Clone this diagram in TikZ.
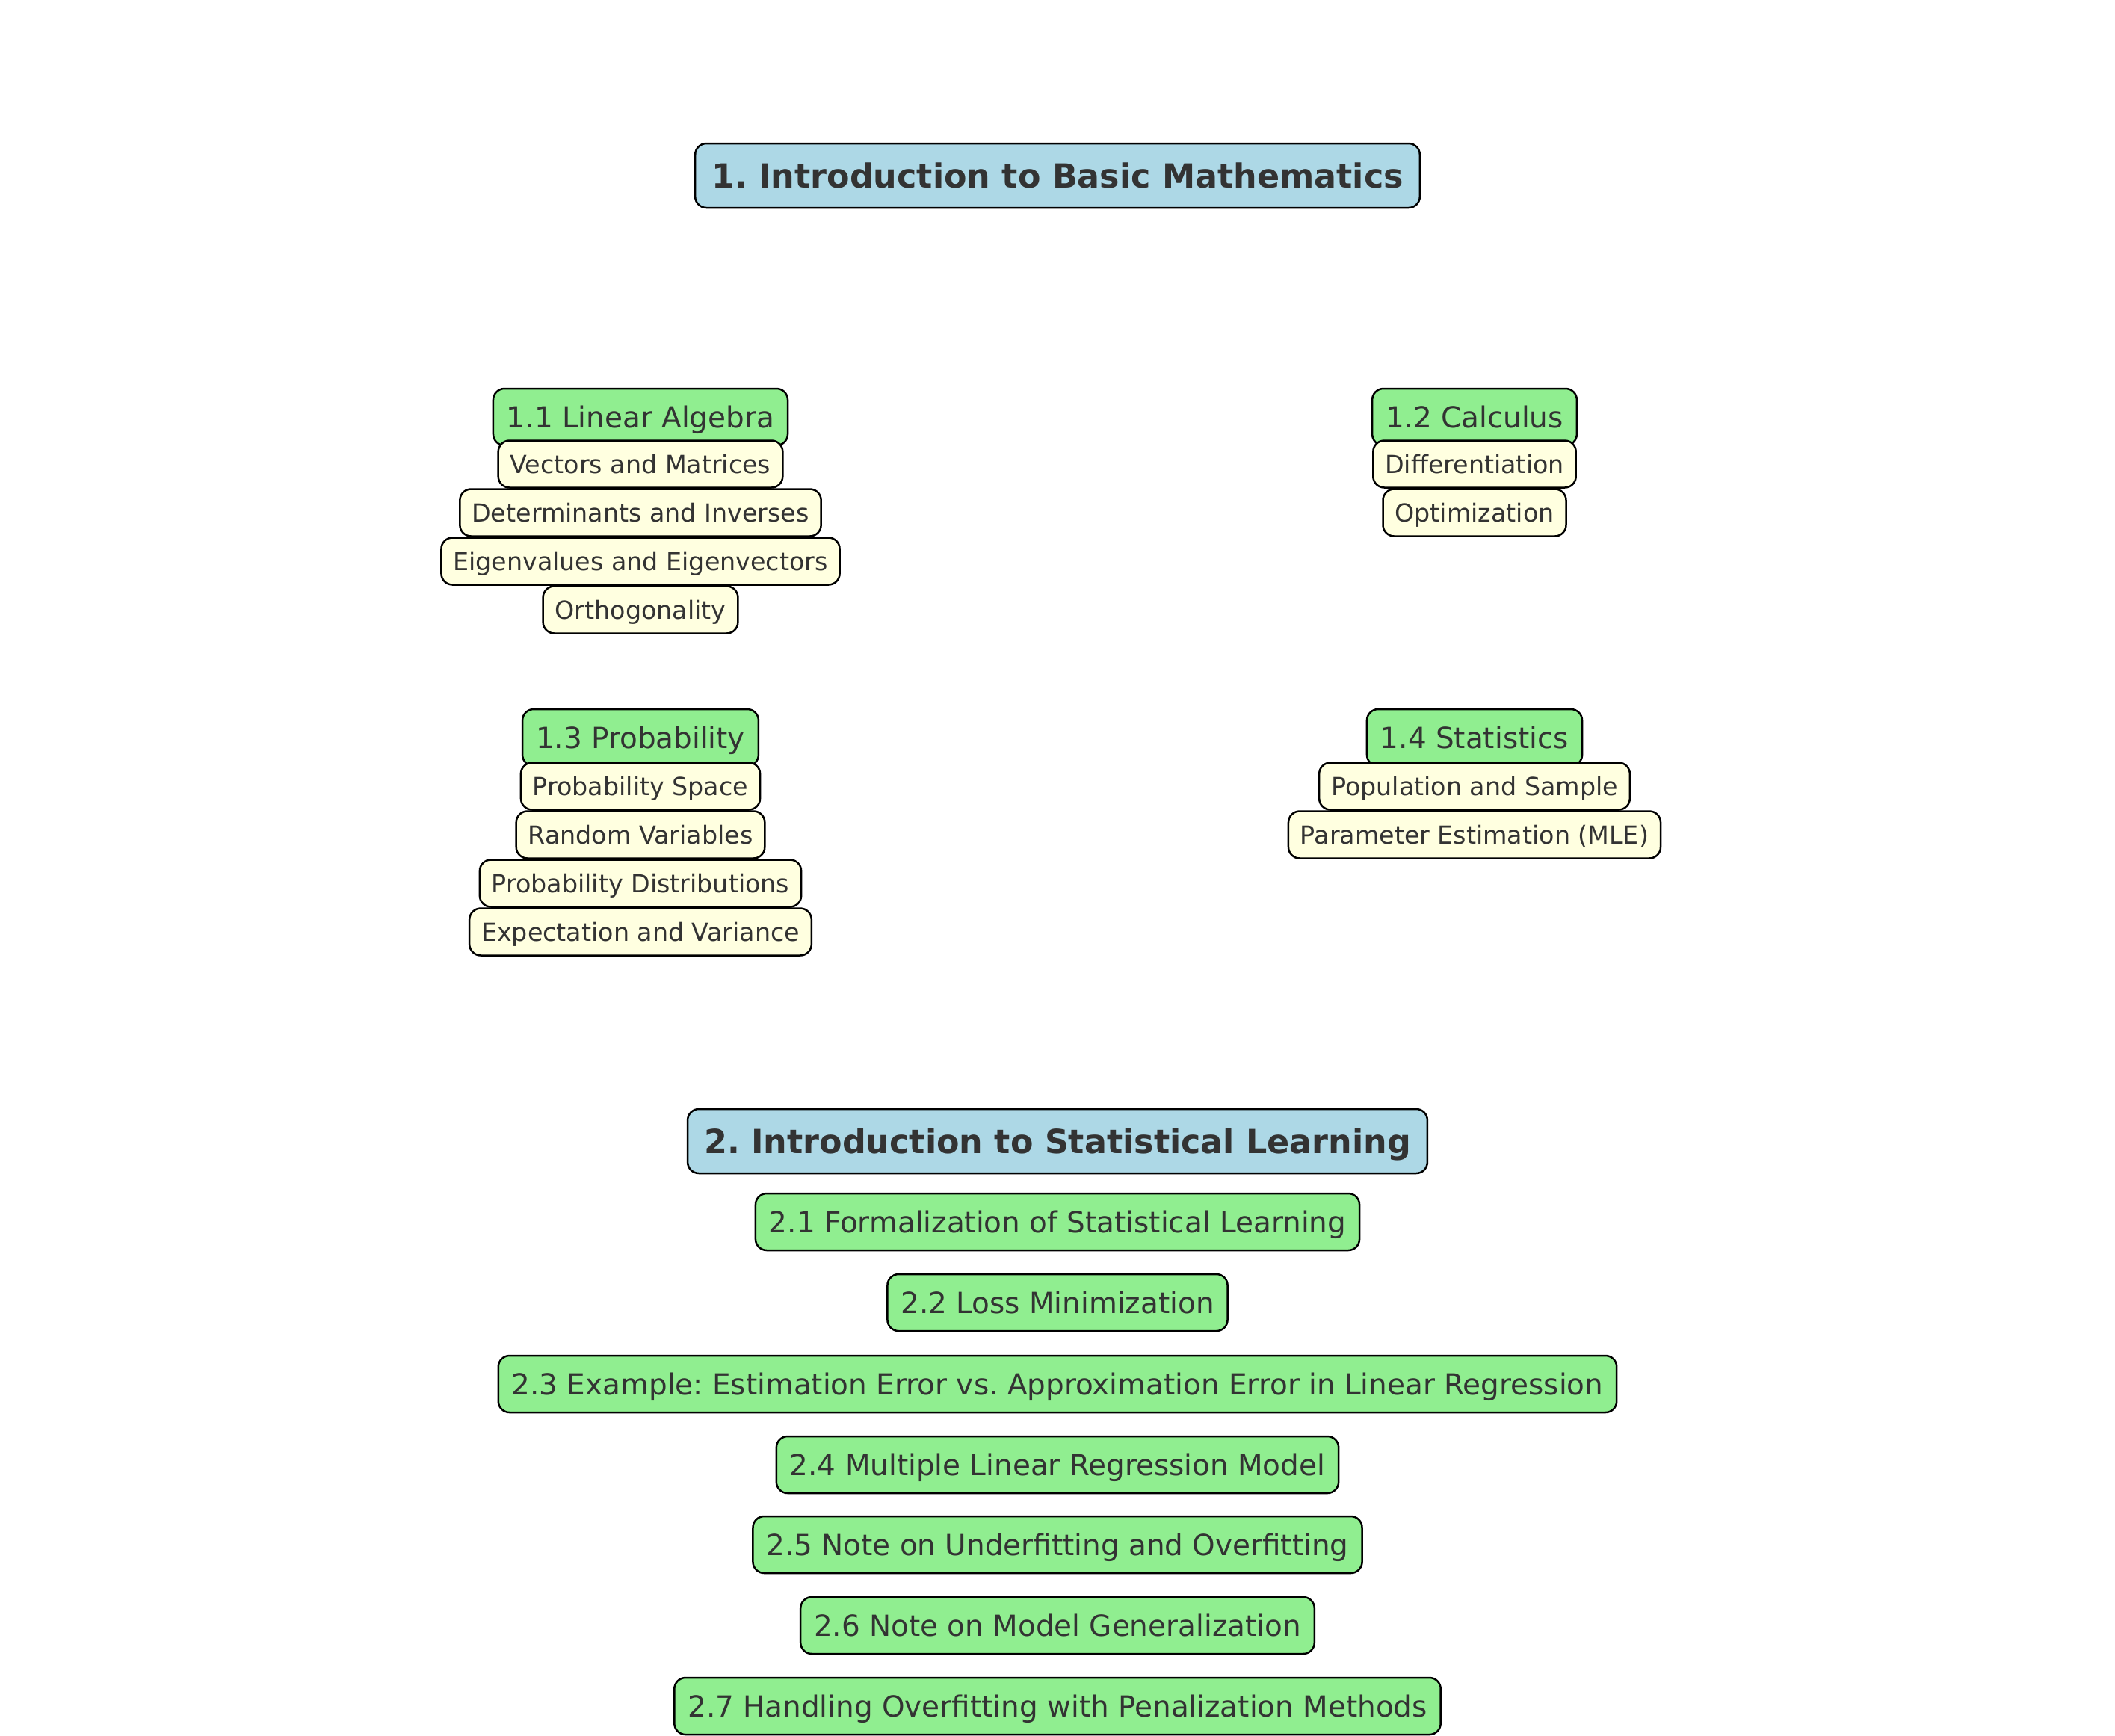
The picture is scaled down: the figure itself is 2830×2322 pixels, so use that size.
\documentclass[tikz,border=0pt]{standalone}
\usepackage{fontspec}
\setmainfont{DejaVu Sans}
\definecolor{txt}{HTML}{333333}
\definecolor{lblue}{HTML}{ADD8E6}
\definecolor{lgreen}{HTML}{90EE90}
\definecolor{lyellow}{HTML}{FFFFE0}
\tikzset{
  base/.style={draw=black, line width=2.5pt, rounded corners=15pt, text=txt, inner xsep=18pt, inner ysep=0pt, anchor=center, text depth=0pt},
  titlebox/.style={base, fill=lblue, minimum height=86pt, font=\fontsize{44.4}{50}\selectfont\bfseries, inner xsep=22pt, text height=32.4pt},
  secbox/.style={base, fill=lgreen, minimum height=76pt, font=\fontsize{38.9}{45}\selectfont, text height=28.4pt},
  itembox/.style={base, fill=lyellow, minimum height=63pt, font=\fontsize{33.3}{38}\selectfont, inner xsep=16pt, text height=24.3pt}
}
\begin{document}
\frenchspacing
\begin{tikzpicture}[x=1pt,y=-1pt]
\useasboundingbox (0,0) rectangle (2830,2322);
\node[titlebox] (t1) at (1415,235) {1. Introduction to Basic Mathematics};

\node[secbox] (s11) at (857,558) {1.1 Linear Algebra};
\node[itembox] (a1) at (857,621) {Vectors and Matrices};
\node[itembox] (a2) at (857,686) {Determinants and Inverses};
\node[itembox] (a3) at (857,751) {Eigenvalues and Eigenvectors};
\node[itembox] (a4) at (857,816) {Orthogonality};

\node[secbox] (s12) at (1973,558) {1.2 Calculus};
\node[itembox] (b1) at (1973,621) {Differentiation};
\node[itembox] (b2) at (1973,686) {Optimization};

\node[secbox] (s13) at (857,987) {1.3 Probability};
\node[itembox] (c1) at (857,1052) {Probability Space};
\node[itembox] (c2) at (857,1117) {Random Variables};
\node[itembox] (c3) at (857,1182) {Probability Distributions};
\node[itembox] (c4) at (857,1247) {Expectation and Variance};

\node[secbox] (s14) at (1973,987) {1.4 Statistics};
\node[itembox] (d1) at (1973,1052) {Population and Sample};
\node[itembox] (d2) at (1973,1117) {Parameter Estimation (MLE)};

\node[titlebox] (t2) at (1415,1527) {2. Introduction to Statistical Learning};
\node[secbox] (e1) at (1415,1635) {2.1 Formalization of Statistical Learning};
\node[secbox] (e2) at (1415,1743) {2.2 Loss Minimization};
\node[secbox] (e3) at (1415,1852) {2.3 Example: Estimation Error vs. Approximation Error in Linear Regression};
\node[secbox] (e4) at (1415,1960) {2.4 Multiple Linear Regression Model};
\node[secbox] (e5) at (1415,2067) {2.5 Note on Underfitting and Overfitting};
\node[secbox] (e6) at (1415,2175) {2.6 Note on Model Generalization};
\node[secbox] (e7) at (1415,2283) {2.7 Handling Overfitting with Penalization Methods};
\end{tikzpicture}
\end{document}
